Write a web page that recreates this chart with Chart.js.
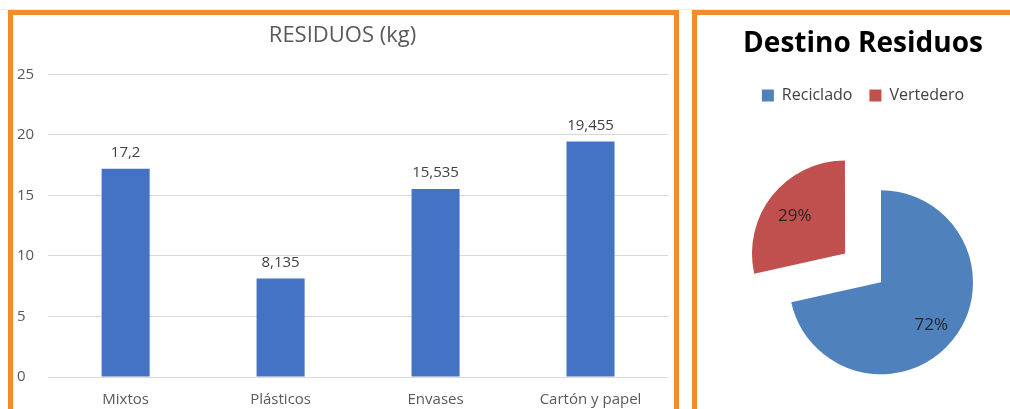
<!DOCTYPE html>
<html>
<head>
<meta charset="utf-8">
<script src="https://cdn.jsdelivr.net/npm/chart.js@4.4.1/dist/chart.umd.min.js"></script>
<style>
  html, body { margin: 0; padding: 0; background: #fff; width: 1010px; height: 409px; overflow: hidden; position: relative; }
  .topline { position: absolute; left: 0; top: 9px; width: 1010px; height: 1px; background: #ececec; }
  .panel { position: absolute; box-sizing: border-box; border: 5px solid #F48C2A; border-bottom: none; background: #fff; }
  #p1 { left: 8px; top: 10px; width: 671px; height: 420px; }
  #p2 { left: 692px; top: 10px; width: 400px; height: 420px; }
  canvas { position: absolute; }
  #bar { left: 13px; top: 15px; }
  #pie { left: 697px; top: 15px; }
</style>
</head>
<body>
<div class="topline"></div>
<div class="panel" id="p1"></div>
<div class="panel" id="p2"></div>
<canvas id="bar" width="661" height="409" style="width:661px;height:409px"></canvas>
<canvas id="pie" width="332" height="460" style="width:332px;height:460px"></canvas>
<script>
// ---- data ----
const barTitle = 'RESIDUOS (kg)';
const categories = ['Mixtos', 'Plásticos', 'Envases', 'Cartón y papel'];
const residuos = [17.2, 8.135, 15.535, 19.455];
const yTicks = [0, 5, 10, 15, 20, 25];

const pieTitle = 'Destino Residuos';
const destinos = ['Reciclado', 'Vertedero'];
const destinoValues = [71.5, 28.5];
const destinoLabels = ['72%', '29%'];

Chart.defaults.font.family = "'Open Sans', sans-serif";

// value labels above bars
const barValueLabels = {
  id: 'barValueLabels',
  afterDatasetsDraw(chart) {
    const ctx = chart.ctx;
    const meta = chart.getDatasetMeta(0);
    ctx.save();
    ctx.font = "15px 'Open Sans', sans-serif";
    ctx.fillStyle = '#404040';
    ctx.textAlign = 'center';
    ctx.textBaseline = 'middle';
    meta.data.forEach((el, i) => {
      const txt = String(residuos[i]).replace('.', ',');
      ctx.fillText(txt, el.x, el.y - 16);
    });
    ctx.restore();
  }
};

new Chart(document.getElementById('bar'), {
  type: 'bar',
  data: {
    labels: categories,
    datasets: [{
      data: residuos,
      backgroundColor: '#4472C4',
      borderWidth: 0,
      barPercentage: 0.31,
      categoryPercentage: 1
    }]
  },
  options: {
    responsive: false,
    devicePixelRatio: 1,
    animation: false,
    layout: { padding: { left: 4, right: 6, top: 0, bottom: 1 } },
    plugins: {
      legend: { display: false },
      tooltip: { enabled: false },
      title: {
        display: true,
        text: barTitle,
        color: '#595959',
        font: { size: 22, weight: 'normal' },
        padding: { top: 8, bottom: 25 }
      }
    },
    scales: {
      x: {
        grid: { display: false, drawTicks: false },
        border: { display: false },
        ticks: { color: '#595959', font: { size: 15 }, padding: 14, maxRotation: 0 }
      },
      y: {
        min: 0, max: 25,
        afterBuildTicks(scale) { scale.ticks = yTicks.map(v => ({ value: v })); },
        grid: { color: '#d9d9d9', lineWidth: 1, drawTicks: false },
        border: { display: false },
        ticks: { color: '#595959', font: { size: 15 }, padding: 7, crossAlign: 'far' }
      }
    }
  },
  plugins: [barValueLabels]
});

// shift the pie's plot area to the right of the title/legend centre
const shiftPie = {
  id: 'shiftPie',
  afterLayout(chart) {
    chart.chartArea.left += 36;
    chart.chartArea.width -= 36;
  }
};

// percentage labels inside slices
const pieLabels = {
  id: 'pieLabels',
  afterDatasetsDraw(chart) {
    const ctx = chart.ctx;
    const meta = chart.getDatasetMeta(0);
    ctx.save();
    ctx.font = "17px 'Open Sans', sans-serif";
    ctx.fillStyle = '#262626';
    ctx.textAlign = 'center';
    ctx.textBaseline = 'middle';
    meta.data.forEach((arc, i) => {
      const p = arc.getProps(['x', 'y', 'startAngle', 'endAngle', 'outerRadius']);
      const mid = (p.startAngle + p.endAngle) / 2;
      const shift = (arc.options.offset || 0) / 4;
      const r = shift + p.outerRadius * 0.7;
      ctx.fillText(destinoLabels[i], p.x + Math.cos(mid) * r, p.y + Math.sin(mid) * r + 3);
    });
    ctx.restore();
  }
};

new Chart(document.getElementById('pie'), {
  type: 'pie',
  data: {
    labels: destinos,
    datasets: [{
      data: destinoValues,
      backgroundColor: ['#4F81BD', '#C0504D'],
      borderWidth: 0,
      offset: [0, 184]
    }]
  },
  options: {
    responsive: false,
    devicePixelRatio: 1,
    animation: false,
    radius: 92,
    layout: { padding: { left: 0, right: 0, top: 0, bottom: 24 } },
    plugins: {
      tooltip: { enabled: false },
      title: {
        display: true,
        text: pieTitle,
        color: '#000000',
        font: { size: 28, weight: 'bold' },
        padding: { top: 12, bottom: 10 }
      },
      legend: {
        display: true,
        position: 'top',
        labels: {
          color: '#404040',
          font: { size: 16 },
          boxWidth: 12,
          boxHeight: 12,
          padding: 17
        }
      }
    }
  },
  plugins: [shiftPie, pieLabels]
});
</script>
</body>
</html>
